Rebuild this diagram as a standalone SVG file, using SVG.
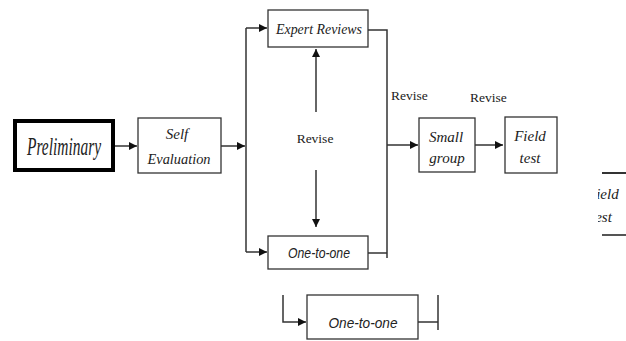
<svg xmlns="http://www.w3.org/2000/svg" width="626" height="341" viewBox="0 0 626 341">
<style>
.box{fill:#fff;stroke:#333;stroke-width:1.3}
.ln{fill:none;stroke:#333;stroke-width:1.5}
.it{font-family:"Liberation Serif",serif;font-style:italic;fill:#222}
.sa{font-family:"Liberation Sans",sans-serif;font-style:italic;fill:#222}
.rv{font-family:"Liberation Serif",serif;font-size:13.5px;fill:#222}
</style>
<defs>
<marker id="ah" viewBox="0 0 10 10" refX="10" refY="5" markerWidth="8" markerHeight="8" markerUnits="userSpaceOnUse" orient="auto">
<path d="M0,0 L10,5 L0,10 z" fill="#111"/>
</marker>
<clipPath id="clip"><rect x="598" y="160" width="28" height="80"/></clipPath>
</defs>
<g id="connectors">
<line class="ln" x1="115" y1="146" x2="137" y2="146" marker-end="url(#ah)"/>
<line class="ln" x1="221" y1="146" x2="245" y2="146" marker-end="url(#ah)"/>
<polyline class="ln" points="246,28 246,252"/>
<line class="ln" x1="246" y1="28" x2="267" y2="28" marker-end="url(#ah)"/>
<line class="ln" x1="246" y1="252" x2="267" y2="252" marker-end="url(#ah)"/>
<polyline class="ln" points="368,30 387,30 387,258"/>
<line class="ln" x1="368" y1="253" x2="387" y2="253"/>
<line class="ln" x1="387" y1="145" x2="418" y2="145" marker-end="url(#ah)"/>
<line class="ln" x1="475" y1="145" x2="503" y2="145" marker-end="url(#ah)"/>
<line class="ln" x1="316" y1="112" x2="316" y2="49" marker-end="url(#ah)"/>
<line class="ln" x1="316" y1="170" x2="316" y2="227" marker-end="url(#ah)"/>
<polyline class="ln" points="283,295 283,322 306,322" marker-end="url(#ah)"/>
<line class="ln" x1="418" y1="322" x2="438" y2="322"/>
<line class="ln" x1="438" y1="295" x2="438" y2="330"/>
</g>
<g id="preliminary">
<rect x="15" y="121" width="98" height="49" fill="#fff" stroke="#000" stroke-width="4"/>
<text class="it" x="64" y="155" font-size="25" text-anchor="middle" textLength="74" lengthAdjust="spacingAndGlyphs">Preliminary</text>
</g>
<g id="self-evaluation">
<rect class="box" x="138" y="118" width="83" height="55"/>
<text class="it" x="177" y="139" font-size="15" text-anchor="middle">Self</text>
<text class="it" x="179" y="164" font-size="15" text-anchor="middle" textLength="63" lengthAdjust="spacingAndGlyphs">Evaluation</text>
</g>
<g id="expert-reviews">
<rect class="box" x="268" y="10" width="100" height="37"/>
<text class="it" x="319" y="34" font-size="15" text-anchor="middle" textLength="86" lengthAdjust="spacingAndGlyphs">Expert Reviews</text>
</g>
<g id="one-to-one">
<rect class="box" x="268" y="236" width="100" height="33"/>
<text class="sa" x="319" y="258" font-size="14" text-anchor="middle" textLength="62" lengthAdjust="spacingAndGlyphs">One-to-one</text>
</g>
<g id="revise-middle">
<text class="rv" x="315" y="143" text-anchor="middle">Revise</text>
</g>
<g id="revise-labels">
<text class="rv" x="391" y="100">Revise</text>
<text class="rv" x="470" y="102">Revise</text>
</g>
<g id="small-group">
<rect class="box" x="419" y="118" width="56" height="54"/>
<text class="it" x="446" y="142" font-size="15" text-anchor="middle">Small</text>
<text class="it" x="447" y="163" font-size="15" text-anchor="middle">group</text>
</g>
<g id="field-test">
<rect class="box" x="505" y="117" width="52" height="56"/>
<text class="it" x="530" y="141" font-size="15" text-anchor="middle">Field</text>
<text class="it" x="530" y="163" font-size="15" text-anchor="middle">test</text>
</g>
<g id="field-test-partial">
<line x1="602" y1="173" x2="626" y2="173" stroke="#333" stroke-width="2"/>
<line x1="602" y1="235" x2="626" y2="235" stroke="#555" stroke-width="2"/>
<g clip-path="url(#clip)">
<text class="it" x="587" y="199" font-size="15">Field</text>
<text class="it" x="591" y="222" font-size="15">test</text>
</g>
</g>
<g id="one-to-one-bottom">
<rect class="box" x="307" y="295" width="111" height="44"/>
<text class="sa" x="363" y="328" font-size="15" text-anchor="middle" textLength="69" lengthAdjust="spacingAndGlyphs">One-to-one</text>
</g>
</svg>
